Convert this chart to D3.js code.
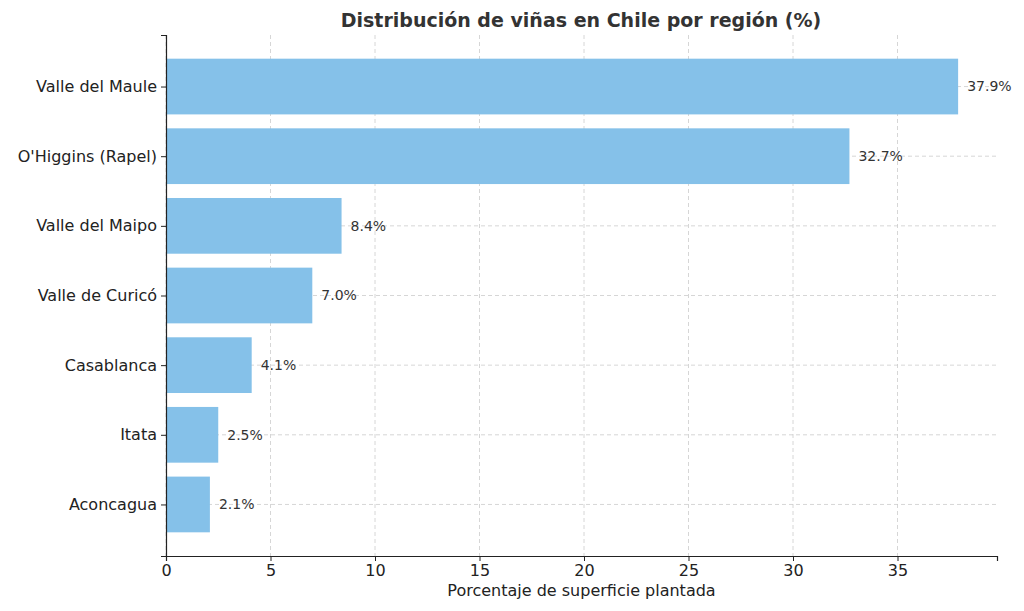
<!DOCTYPE html>
<html><head><meta charset="utf-8">
<script src="https://cdn.jsdelivr.net/npm/d3@7"></script>
<style>body{margin:0;background:#fff}</style></head>
<body><svg id="c" width="1024" height="611"></svg>
<script>
const categories = ["Valle del Maule","O'Higgins (Rapel)","Valle del Maipo","Valle de Curicó","Casablanca","Itata","Aconcagua"];
const values = [37.9,32.7,8.4,7.0,4.1,2.5,2.1];
const xTicks = [0,5,10,15,20,25,30,35];
const svg = d3.select("#c");
const L=166,R=997,T=35,B=556;
const font="DejaVu Sans, sans-serif";
const x=d3.scaleLinear().domain([0,39.76]).range([L,R]);
const y=d3.scaleLinear().domain([-0.74,6.74]).range([T,B]);
const g=svg.append("g");
// grid
g.selectAll(".vg").data(xTicks).join("line").attr("x1",d=>x(d)).attr("x2",d=>x(d)).attr("y1",T).attr("y2",B)
 .attr("stroke","#ccc").attr("stroke-dasharray","4,3").attr("stroke-width",0.8);
g.selectAll(".hg").data(categories).join("line").attr("x1",L).attr("x2",R).attr("y1",(d,i)=>y(i)).attr("y2",(d,i)=>y(i))
 .attr("stroke","#ccc").attr("stroke-dasharray","4,3").attr("stroke-width",0.8);
// bars
g.selectAll("rect").data(values).join("rect").attr("x",x(0)).attr("y",(d,i)=>y(i-0.4))
 .attr("width",d=>x(d)-x(0)).attr("height",y(0.8)-y(0)).attr("fill","#85C1E9");
g.selectAll(".lab").data(values).join("text").attr("x",d=>x(d)+9).attr("y",(d,i)=>y(i)).attr("dy","0.35em")
 .attr("font-family",font).attr("font-size",14).attr("fill","#333").text(d=>d.toFixed(1)+"%");
// axes
const xa=svg.append("g").attr("transform",`translate(0,${B})`).call(d3.axisBottom(x).tickValues(xTicks).tickSize(5).tickPadding(4));
const ya=svg.append("g").attr("transform",`translate(${L},0)`).call(d3.axisLeft(y).tickValues(d3.range(7)).tickFormat(i=>categories[i]).tickSize(5).tickPadding(4));
[xa,ya].forEach(a=>{a.select(".domain").attr("stroke","#222").attr("stroke-width",1.2);
 a.selectAll("text").attr("font-family",font).attr("font-size",16).attr("fill","#222");
 a.selectAll(".tick line").attr("stroke","#222");});
svg.append("text").attr("x",(L+R)/2).attr("y",596).attr("text-anchor","middle").attr("font-family",font).attr("font-size",16).attr("fill","#222").text("Porcentaje de superficie plantada");
svg.append("text").attr("x",581).attr("y",27).attr("text-anchor","middle").attr("font-family",font).attr("font-size",19).attr("font-weight","bold").attr("fill","#333").text("Distribución de viñas en Chile por región (%)");
</script></body></html>
